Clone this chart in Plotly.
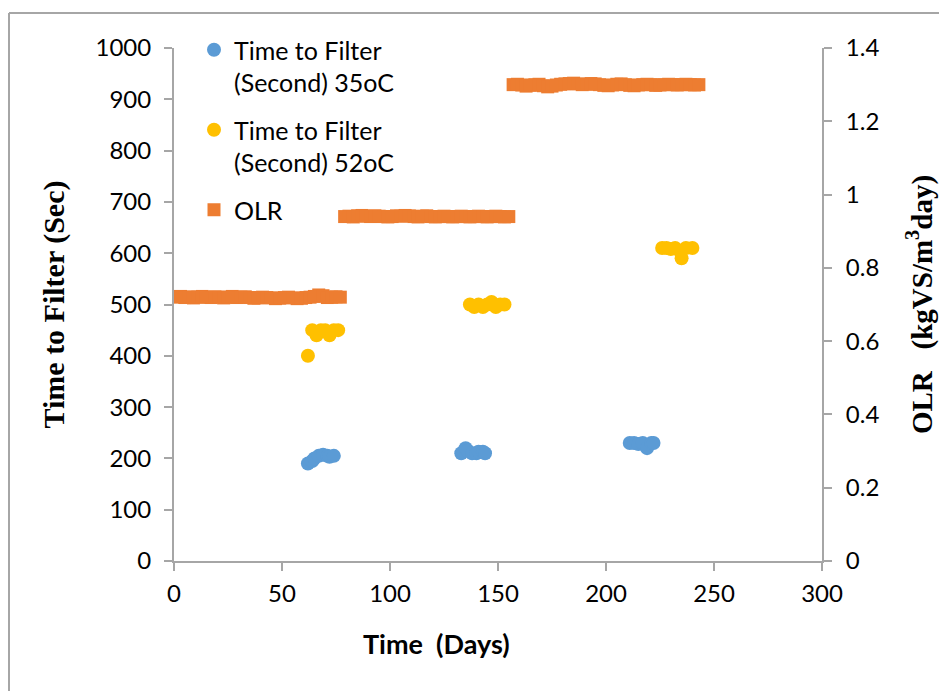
import plotly.graph_objects as go

# --- Data ---
# Time to Filter at 35 oC (seconds)
days_35 = [62, 64, 65, 67, 69, 71, 72, 74,
           133, 135, 136, 138, 140, 141, 143, 144,
           211, 213, 215, 217, 219, 221, 222]
ttf_35 = [190, 195, 200, 205, 207, 205, 203, 205,
          210, 220, 215, 210, 210, 213, 213, 210,
          230, 230, 228, 230, 220, 230, 230]

# Time to Filter at 52 oC (seconds)
days_52 = [62, 64, 66, 68, 70, 72, 74, 76,
           137, 139, 141, 143, 145, 147, 149, 151, 153,
           226, 228, 230, 232, 234, 235, 237, 240]
ttf_52 = [400, 450, 440, 450, 450, 440, 450, 450,
          500, 495, 500, 495, 500, 505, 495, 500, 500,
          610, 610, 608, 610, 605, 590, 610, 610]

# OLR (kgVS/m3 day)
olr_days = [1, 3, 5, 7, 9, 11, 13, 15, 17, 19, 21, 23, 25, 27, 29, 31, 33, 35, 37, 39,
            41, 43, 45, 47, 49, 51, 53, 55, 57, 59, 61, 63, 65, 67, 69, 71, 73, 75, 77,
            79, 81, 83, 85, 87, 89, 91, 93, 95, 97, 99, 101, 103, 105, 107, 109, 111, 113, 115, 117,
            119, 121, 123, 125, 127, 129, 131, 133, 135, 137, 139, 141, 143, 145, 147, 149, 151, 153, 155,
            157, 159, 161, 163, 165, 167, 169, 171, 173, 175, 177, 179, 181, 183, 185, 187, 189, 191, 193, 195,
            197, 199, 201, 203, 205, 207, 209, 211, 213, 215, 217, 219, 221, 223, 225, 227, 229, 231, 233, 235,
            237, 239, 241, 243]
olr = [0.720, 0.722, 0.719, 0.721, 0.718, 0.720, 0.722, 0.720, 0.719, 0.721, 0.720, 0.718, 0.720, 0.722, 0.719, 0.720,
       0.721, 0.719, 0.717, 0.718, 0.720, 0.719, 0.718, 0.716, 0.717, 0.719, 0.720, 0.718, 0.716, 0.717, 0.719,
       0.720, 0.722, 0.726, 0.724, 0.719, 0.720, 0.721, 0.720,
       0.940, 0.941, 0.939, 0.942, 0.943, 0.941, 0.940, 0.942, 0.941, 0.940, 0.939, 0.940, 0.942, 0.941, 0.943,
       0.942, 0.940, 0.939, 0.941, 0.942, 0.940, 0.939, 0.940, 0.941, 0.940, 0.939, 0.940, 0.941, 0.940, 0.939,
       0.940, 0.941, 0.940, 0.939, 0.940, 0.941, 0.940, 0.939, 0.940,
       1.300, 1.301, 1.299, 1.296, 1.298, 1.300, 1.301, 1.297, 1.294, 1.296, 1.299, 1.301, 1.302, 1.303, 1.304,
       1.302, 1.300, 1.301, 1.303, 1.302, 1.300, 1.298, 1.297, 1.299, 1.301, 1.302, 1.300, 1.298, 1.297, 1.299,
       1.300, 1.301, 1.300, 1.298, 1.299, 1.300, 1.301, 1.300, 1.299, 1.300, 1.301, 1.300, 1.299, 1.300]

x_ticks = [0, 50, 100, 150, 200, 250, 300]

BLUE = "#5b9bd5"
YELLOW = "#ffc000"
ORANGE = "#ed7d31"
AXIS = "#a6a6a6"
TICK_FONT = dict(family="Lato, Carlito, sans-serif", size=24, color="#000000")

fig = go.Figure()
fig.add_trace(go.Scatter(
    x=days_35, y=ttf_35, mode="markers", name="Time to Filter<br>(Second) 35oC",
    legendgroup="a",
    marker=dict(color=BLUE, size=14, symbol="circle", line=dict(width=0)),
    yaxis="y"))
fig.add_trace(go.Scatter(
    x=days_52, y=ttf_52, mode="markers", name="Time to Filter<br>(Second) 52oC",
    legendgroup="b",
    marker=dict(color=YELLOW, size=14, symbol="circle", line=dict(width=0)),
    yaxis="y"))
fig.add_trace(go.Scatter(
    x=olr_days, y=olr, mode="markers", name="OLR",
    legendgroup="c",
    marker=dict(color=ORANGE, size=13, symbol="square", line=dict(width=0)),
    yaxis="y2"))

# page body has an 8px margin; compensate so the plot lands where the reference has it
OFF = 8
W, H = 947 - OFF, 691 - OFF
PL, PR, PT, PB = 174, 822, 48, 561          # plot area in window pixels
L, R, T, B = PL - OFF, (947 - PR), PT - OFF, (691 - PB)
pw, ph = PR - PL, PB - PT

def px(xw):
    return (xw - PL) / pw

def py(yw):
    return (PB - yw) / ph

fig.update_layout(
    width=W, height=H, autosize=False,
    margin=dict(l=L, r=R, t=T, b=B),
    paper_bgcolor="white", plot_bgcolor="white",
    showlegend=True,
    legend=dict(
        x=px(194), y=py(27), xanchor="left", yanchor="top",
        font=dict(family="Lato, Carlito, sans-serif", size=25, color="#000000"),
        bgcolor="rgba(0,0,0,0)", tracegroupgap=12, valign="top",
        itemwidth=30,
    ),
    xaxis=dict(
        range=[0, 300], tickvals=x_ticks, ticktext=[str(v) for v in x_ticks],
        showgrid=False, zeroline=False,
        showline=True, linecolor=AXIS, linewidth=2,
        ticks="outside", ticklen=8, tickwidth=2, tickcolor=AXIS,
        tickfont=TICK_FONT, ticklabelstandoff=2,
    ),
    yaxis=dict(
        range=[0, 1000], dtick=100,
        showgrid=False, zeroline=False,
        showline=True, linecolor=AXIS, linewidth=2,
        ticks="outside", ticklen=8, tickwidth=2, tickcolor=AXIS,
        tickfont=TICK_FONT, ticklabelstandoff=8,
        title=dict(text="<b>Time to Filter (Sec)</b>", standoff=22,
                   font=dict(family="Liberation Serif, Times New Roman, serif", size=30, color="#000000")),
    ),
    yaxis2=dict(
        range=[0, 1.4], dtick=0.2, overlaying="y", side="right",
        showgrid=False, zeroline=False,
        showline=True, linecolor=AXIS, linewidth=2,
        ticks="outside", ticklen=8, tickwidth=2, tickcolor=AXIS,
        tickfont=TICK_FONT, ticklabelstandoff=9,
        title=dict(text="<b>OLR\u00a0\u00a0\u00a0(kgVS/m<sup>3</sup>day)</b>", standoff=33,
                   font=dict(family="Liberation Serif, Times New Roman, serif", size=29, color="#000000")),
    ),
    annotations=[
        dict(text="<b>Time\u00a0\u00a0(Days)</b>", xref="paper", yref="paper",
             x=px(436), y=py(643), xanchor="center", yanchor="middle", showarrow=False,
             font=dict(family="Lato, Carlito, sans-serif", size=27, color="#000000")),
    ],
    shapes=[
        dict(type="line", xref="paper", yref="paper",
             x0=px(9), x1=px(9), y0=py(13), y1=py(720),
             line=dict(color=AXIS, width=2)),
        dict(type="line", xref="paper", yref="paper",
             x0=px(9), x1=px(980), y0=py(13), y1=py(13),
             line=dict(color=AXIS, width=2)),
    ],
)

fig.write_html("out.html")
